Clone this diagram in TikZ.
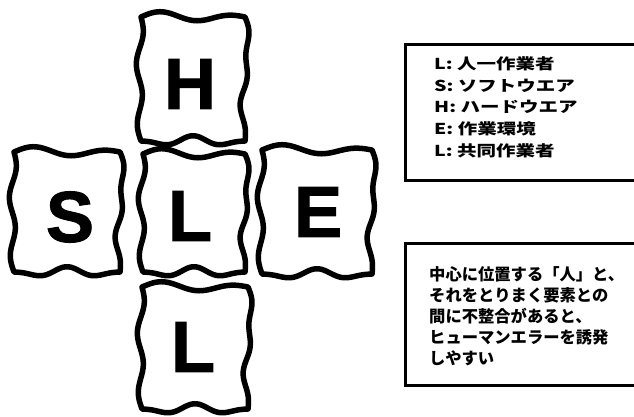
\documentclass[tikz,border=0pt]{standalone}
\usepackage{fontspec}
\newfontfamily\tilefont{Liberation Sans}[FakeBold=1.5]
\newfontfamily\cjk{Noto Sans CJK JP}
\tikzset{
  tile/.style={line width=5.5pt, line join=round, line cap=round},
  tileletter/.style={font=\tilefont\bfseries\fontsize{72}{72}\selectfont, inner sep=0pt},
  infobox/.style={draw, line width=3.2pt, anchor=north west, inner sep=0pt},
}
% name, cx, cy, half width, half height, letter, letter dx, letter dy
\newcommand\wavytile[8]{%
  \draw[tile]
    plot[domain=0:1,samples=40,smooth] ({#2-#4+2*#4*\x},{#3-#5-3.5*sin(540*\x)-2*sin(360*\x)})
    -- plot[domain=0:1,samples=40,smooth] ({#2+#4+3*sin(360*\x)+2*sin(900*\x)},{#3-#5+2*#5*\x})
    -- plot[domain=0:1,samples=40,smooth] ({#2+#4-2*#4*\x},{#3+#5+3.5*sin(540*\x)-1.8*sin(900*\x)})
    -- plot[domain=0:1,samples=40,smooth] ({#2-#4-3*sin(720*\x)-1.8*sin(180*\x)},{#3+#5-2*#5*\x})
    -- cycle;
  \node[tileletter] (#1) at (#2+#7,#3+#8) {#6};%
}
\begin{document}
\begin{tikzpicture}[x=1pt,y=-1pt]
\useasboundingbox (0,0) rectangle (634,416);
\fill[white] (0,0) rectangle (634,416);
\begin{scope}
\clip (0,0) rectangle (634,416);
% tiles
\wavytile{H}{193}{79}{52}{62}{H}{-3}{5}
\wavytile{S}{67}{212}{53}{60}{S}{3}{5}
\wavytile{Lc}{194}{213}{51}{59}{L}{-4}{3}
\wavytile{E}{317}{212}{55}{62}{E}{1}{0}
\wavytile{Lb}{195}{348}{53}{61}{L}{-2}{-1}
% boxes
\node[infobox, minimum width=260, minimum height=136] (box1) at (403.5,43) {};
\node[infobox, minimum width=260, minimum height=142] (box2) at (403.5,241.5) {};
\node[anchor=north west, inner sep=0pt] (txt1) at (434,54)
  {\scalebox{1.3}[1]{\cjk\bfseries\fontsize{15}{21.7}\selectfont
   \begin{tabular}{@{}l@{}}
   L: 人一作業者\\
   S: ソフトウエア\\
   H: ハードウエア\\
   E: 作業環境\\
   L: 共同作業者
   \end{tabular}}};
\node[anchor=north west, inner sep=0pt, align=left,
      font=\cjk\bfseries\fontsize{16.3}{21}\selectfont] (txt2) at (429,266)
  {中心に位置する「人」と、\\
   それをとりまく要素との\\
   間に不整合があると、\\
   ヒューマンエラーを誘発\\
   しやすい};
\end{scope}
\end{tikzpicture}
\end{document}
